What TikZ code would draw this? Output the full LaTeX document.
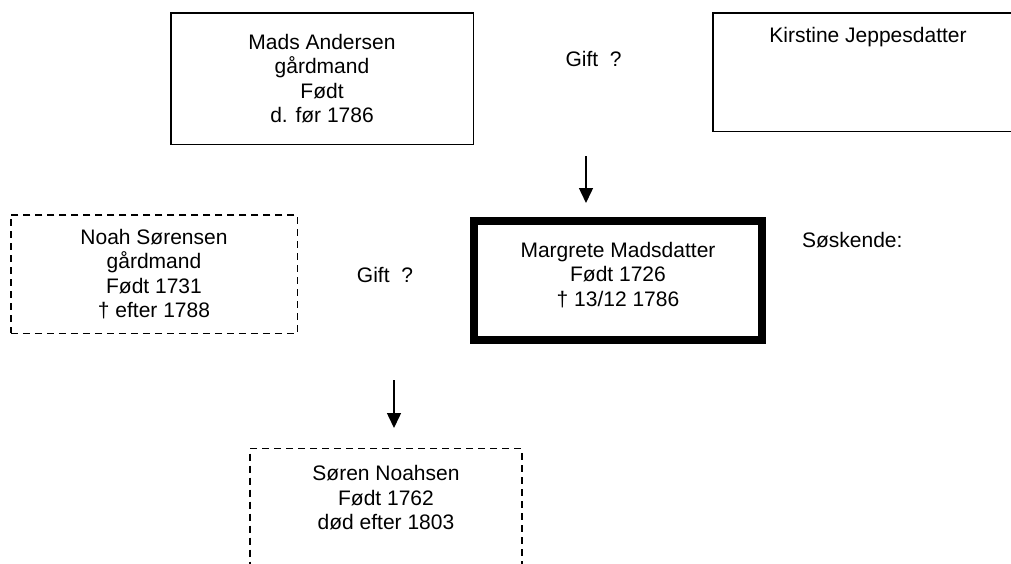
\documentclass[tikz,border=0pt]{standalone}
\usepackage{fontspec}
\setmainfont{Liberation Sans}
\usetikzlibrary{arrows.meta}

\begin{document}
\begin{tikzpicture}[x=1pt, y=-1pt, every node/.style={font={\fontsize{21}{24.5}\selectfont}}, >={Triangle[width=14pt,length=15pt]}, line width=1.5pt,
    person/.style={draw, align=center, inner sep=0pt},
    unsure/.style={person, dash pattern=on 7pt off 5pt},
    proband/.style={person, line width=8pt}]
    \useasboundingbox (0,0) rectangle (1011,563);
    % parents
    \node[person, minimum width=302.5pt, minimum height=131.5pt] (mads) at (322,78.5) {Mads Andersen\\gårdmand\\Født\\d. før 1786};
    \node[person, minimum width=310pt, minimum height=118.5pt] (kirstine) at (868,72) {Kirstine Jeppesdatter\\ \mbox{}\\ \mbox{}\\ \mbox{}};
    \node[anchor=base] (giftparents) at (593.5,66) {Gift\ \ ?};
    \coordinate (parentsfrom) at (586,156);
    \coordinate (parentsto) at (586,203);
    % main person and spouse
    \node[proband, minimum width=288pt, minimum height=119pt] (margrete) at (618,280.5) {Margrete Madsdatter\\Født 1726\\† 13/12 1786\\[-12pt]\mbox{}};
    \node[anchor=base west] (siblings) at (798,247) {Søskende:};
    \node[unsure, minimum width=286.5pt, minimum height=118.5pt] (noah) at (154,274) {Noah Sørensen\\gårdmand\\Født 1731\\† efter 1788};
    \node[anchor=base] (giftspouse) at (385,282) {Gift\ \ ?};
    \coordinate (childfrom) at (394,380);
    \coordinate (childto) at (394,428);
    % child
    \node[unsure, minimum width=272pt, minimum height=147pt, anchor=north] (soren) at (386,447.75) {Søren Noahsen\\Født 1762\\død efter 1803\\ \mbox{}\\ \mbox{}};

    \draw[->] (parentsfrom) -- (parentsto);
    \draw[->] (childfrom) -- (childto);
\end{tikzpicture}
\end{document}
